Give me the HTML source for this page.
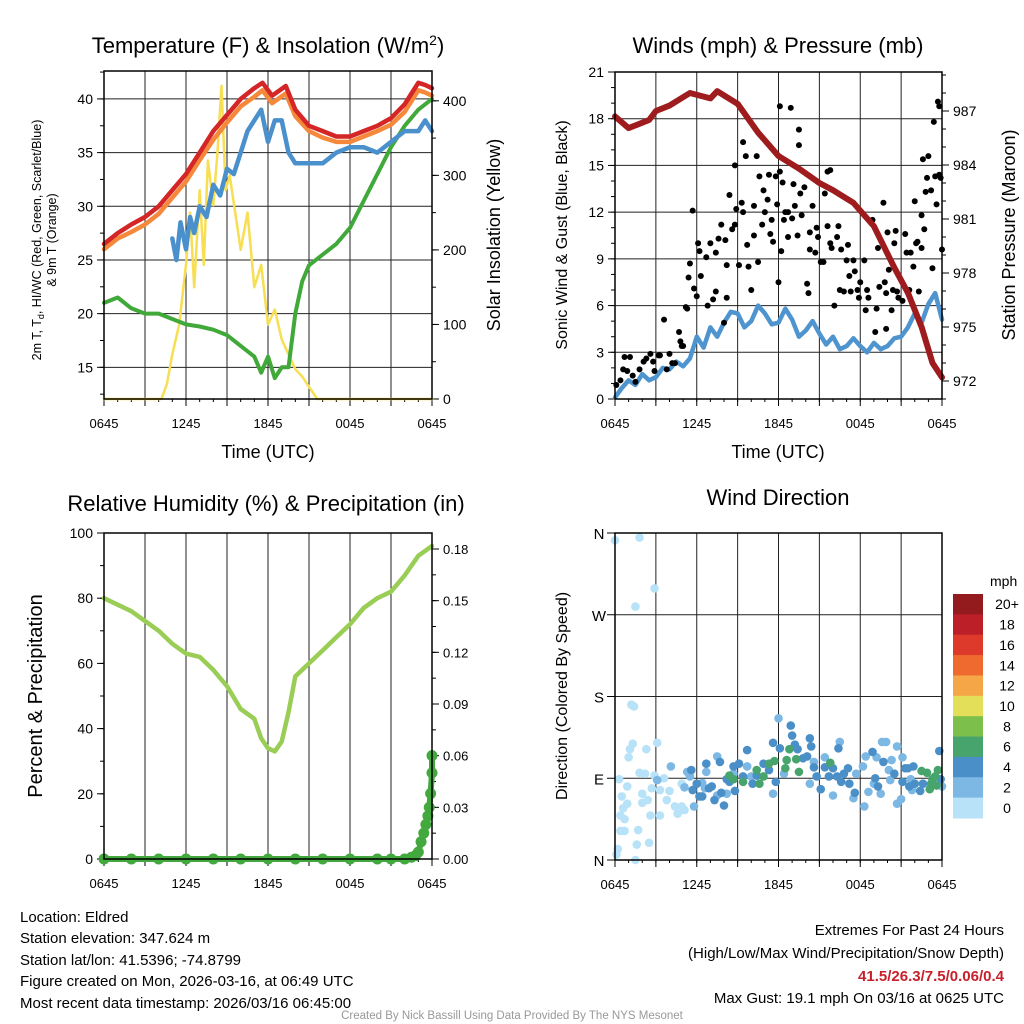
<!DOCTYPE html>
<html><head><meta charset="utf-8"><style>
body{margin:0;background:#fff}
svg{display:block;font-family:"Liberation Sans",sans-serif}
</style></head><body>
<svg id="s" width="1024" height="1024" viewBox="0 0 1024 1024" xmlns="http://www.w3.org/2000/svg">
<rect width="1024" height="1024" fill="#fff"/>
<g id="p1"></g>
<g id="p2"></g>
<g id="p3"></g>
<g id="p4"></g>
<text x="268" y="53" font-size="22" text-anchor="middle">Temperature (F) &amp; Insolation (W/m<tspan dy="-8" font-size="14">2</tspan><tspan dy="8">)</tspan></text>
<text x="778" y="53" font-size="22" text-anchor="middle">Winds (mph) &amp; Pressure (mb)</text>
<text x="266" y="511" font-size="22" text-anchor="middle">Relative Humidity (%) &amp; Precipitation (in)</text>
<text x="778" y="505" font-size="22" text-anchor="middle">Wind Direction</text>
<text x="268" y="458" font-size="18" text-anchor="middle">Time (UTC)</text>
<text x="778" y="458" font-size="18" text-anchor="middle">Time (UTC)</text>
<text transform="translate(41,240) rotate(-90)" font-size="12.5" text-anchor="middle">2m T, T<tspan font-size="9" dy="3">d</tspan><tspan dy="-3">, HI/WC (Red, Green, Scarlet/Blue)</tspan></text>
<text transform="translate(56,240) rotate(-90)" font-size="12.5" text-anchor="middle">&amp; 9m T (Orange)</text>
<text transform="translate(500,235) rotate(-90)" font-size="18" text-anchor="middle">Solar Insolation (Yellow)</text>
<text transform="translate(567,235) rotate(-90)" font-size="16" text-anchor="middle">Sonic Wind &amp; Gust (Blue, Black)</text>
<text transform="translate(1015,235) rotate(-90)" font-size="18" text-anchor="middle">Station Pressure (Maroon)</text>
<text transform="translate(42,696) rotate(-90)" font-size="20" text-anchor="middle">Percent &amp; Precipitation</text>
<text transform="translate(567,696) rotate(-90)" font-size="16" text-anchor="middle">Direction (Colored By Speed)</text>
<g font-size="15">
<text x="20" y="922">Location: Eldred</text>
<text x="20" y="943">Station elevation: 347.624 m</text>
<text x="20" y="965">Station lat/lon: 41.5396; -74.8799</text>
<text x="20" y="986">Figure created on Mon, 2026-03-16, at 06:49 UTC</text>
<text x="20" y="1008">Most recent data timestamp: 2026/03/16 06:45:00</text>
</g>
<g font-size="15" text-anchor="end">
<text x="1004" y="935">Extremes For Past 24 Hours</text>
<text x="1004" y="958">(High/Low/Max Wind/Precipitation/Snow Depth)</text>
<text x="1004" y="981" fill="#c8202a" font-weight="bold">41.5/26.3/7.5/0.06/0.4</text>
<text x="1004" y="1003">Max Gust: 19.1 mph On 03/16 at 0625 UTC</text>
</g>
<text x="512" y="1019" font-size="11.5" fill="#999" text-anchor="middle">Created By Nick Bassill Using Data Provided By The NYS Mesonet</text>
</svg>
<script>
// ---- Temperature panel data (hours since 0645 UTC) ----
const tempHours=[0,1,2,3,4,5,6,7,8,9,10,11,11.6,12.3,13.3,14,15,16,17,18,19,20,21,22,22.5,23,23.5,24];
const tempRed=[26.5,27.5,28.3,29,30,31.5,33,35,37,38.5,40,41,41.5,40.3,41.2,39,37.5,37,36.5,36.5,37,37.5,38.2,39.5,40.5,41.5,41.3,41];
const temp9m=[26,27,27.6,28.3,29.3,30.8,32.3,34.3,36.2,37.8,39.3,40.2,40.8,39.6,40.5,38.4,37,36.4,36,36,36.5,37,37.6,38.8,39.8,40.8,40.6,40.3];
const hiHours=[5,5.3,5.6,6,6.3,6.6,7,7.5,8,8.5,9,9.5,10,10.5,11,11.5,12,12.5,13,13.5,14,15,16,17,18,19,20,21,22,23,23.5,24];
const hiBlue=[27,25,28.5,26,29,27.5,30,29,32,31,33.5,33,35,37,38,39,36,38,38,35,34,34,34,35,35.5,35.5,35,36,37,37,38,37];
const dewHours=[0,1,2,3,4,5,6,7,8,9,10,11,11.5,12,12.5,13,13.5,14,14.5,15,16,17,18,19,20,21,22,23,24];
const dewGreen=[21,21.5,20.5,20,20,19.5,19,18.8,18.5,18,17,16,14.5,16,14,15,15,20,23,24.5,25.5,26.5,28,30.5,33,35.5,37.5,39,40];
const solarHours=[0,4.2,4.6,5,5.5,6,6.3,6.6,7,7.3,7.6,8,8.3,8.6,8.9,9.2,9.6,10,10.5,11,11.5,12,12.5,13,13.5,14,14.5,15.6,24];
const solarVals=[0,0,20,60,100,180,250,150,280,180,320,260,330,420,280,300,250,200,250,150,180,100,120,80,60,40,30,0,0];
const tempTicks=[15,20,25,30,35,40];
const solarTicks=[0,100,200,300,400];
const timeLabels=["0645","1245","1845","0045","0645"];
// ---- Winds panel data ----
const windHours=[0,0.5,1,1.5,2,2.5,3,3.5,4,4.5,5,5.5,6,6.5,7,7.5,8,8.5,9,9.5,10,10.5,11,11.5,12,12.5,13,13.5,14,14.5,15,15.5,16,16.5,17,17.5,18,18.5,19,19.5,20,20.5,21,21.5,22,22.5,23,23.5,24];
const windSonic=[0.1,0.7,1.2,0.9,1.6,1.2,1.4,2,1.9,2.4,2.1,2.6,4,3.3,4.6,4,4.9,5.6,5.5,4.6,5,6,5.5,4.8,4.9,5.8,5.1,4,4.4,5,4.2,3.5,4,3.2,3.4,3.9,3.4,3,3.6,3.2,3.4,3.9,4,4.6,5.5,4.9,6.1,6.8,5.1];
const gustHours=[0.1,0.4,0.7,1.1,0.9,1.5,1.8,2.3,2.8,3.2,3.6,3.8,4,4.4,4.8,5,5.2,5.5,5.4,5.7,5.8,6,6.1,6.2,6.3,6.7,6.8,7,7.2,7.4,7.4,7.6,7.8,8.1,8.2,8.2,8,8.4,8.6,8.8,8.8,8.9,9.1,9.3,9.4,9.7,9.4,9.6,9.8,10,10.2,10.2,10.4,10.5,10.6,10.8,10.9,11,11.2,11.3,11.4,11.5,11.6,11.8,11.9,12,12.1,12.1,12.2,12.3,12.4,12.5,12.7,12.7,12.9,13,13.1,13.2,13.4,13.5,13.5,13.6,13.7,13.9,14.1,14.2,14.3,14.3,14.5,14.7,14.8,14.9,15.1,15.3,15.4,15.6,15.8,15.6,15.8,15.9,16.1,16.3,16.4,16.5,16.6,16.8,17,17.1,17.2,17.3,17.5,17.6,17.8,17.9,18,18.3,18.4,18.5,18.6,18.9,19.1,19.2,19.3,19.4,19.7,19.8,19.9,19.9,20,20.1,20.3,20.4,20.5,20.6,20.7,20.8,21.1,21.3,21.4,21.6,21.7,21.9,22,22.1,22.2,22.3,22.5,22.5,22.6,22.7,22.8,22.9,23,23.2,23.3,23.4,23.5,23.6,23.7,23.8,23.8,23.9,24,0.6,1.3,2.1,2.6,2.9,3.3,4.2,4.7,4.9,5.3];
const gustVals=[0.9,1.2,2.7,2.7,1.8,1.1,1.9,2.6,2.4,2.8,5.1,1.9,2.9,2.3,3.7,3.4,5.9,8.7,7.8,12.1,7.1,6.6,10,9.5,7.9,9.1,6,10,6.4,9.4,6.9,10.3,11.2,10.2,8.6,6.5,4.9,13.1,10.9,11.2,15,12.2,8.6,12.6,12,9.9,16.5,15.6,8.5,7,10.5,12.4,15.6,8.8,14.3,11.2,13.4,12,12.8,14.4,10.6,11.5,10.1,14.3,12.5,7.5,18.8,14.6,9.5,13.9,11.5,12,10.4,12,18.7,11.6,13.8,12.4,10.5,16.3,17.3,13.2,11.8,13.6,7.4,6.8,10.7,9.6,12.4,9.4,11,10.4,8.8,8.8,13.2,14.6,14.7,11.1,10,9.7,6,10.4,11.1,7,9.6,6.9,8.9,9.9,7.9,6.9,8.9,8.2,7,6.5,7.5,8.9,5.7,7,6.5,11.5,4.3,5.8,9.7,7.2,12.6,7.5,4.5,6.8,10.7,8.3,5.7,7,10,10.8,6.9,6.5,6.3,10.6,9.4,7,9.4,8.5,12.7,10,10.1,6.9,9.7,11.8,15.4,10.9,13.3,14.2,15.6,13.4,8.4,17.8,14.3,12.5,19.1,18.8,14.4,14.2,9.6,1.9,1.5,2.4,2.9,1.8,2.8,2.3,4.3,3.4,5.8];
const presHours=[0,1,2.5,3,4,5.5,7,7.5,9,10.5,12,13.5,15,16,17.5,19,20.5,21.5,22.5,23.3,24];
const presVals=[986.7,986.05,986.5,987,987.3,988,987.7,988.1,987.4,985.8,984.5,983.8,983,982.6,981.9,980.6,978.3,976.9,975,973,972.2];
const windTicks=[0,3,6,9,12,15,18,21];
const presTicks=[972,975,978,981,984,987];
// ---- Humidity panel data ----
const rhHours=[0,1,2,3,4,5,6,7,8,9,10,11,11.5,12,12.5,13,13.5,14,15,16,17,18,19,20,21,22,23,24];
const rhVals=[80,78,76,73,70,66,63,62,58,53,46,43,37,34,33,36,45,56,60,64,68,72,77,80,82,87,93,96];
const precipHours=[0,2,4,6,8,10,12,14,16,18,20,21,22,22.5,22.8,23,23.2,23.4,23.55,23.7,23.8,23.9,24,24];
const precipVals=[0,0,0,0,0,0,0,0,0,0,0,0,0,0.001,0.002,0.004,0.01,0.015,0.02,0.025,0.03,0.038,0.05,0.06];
const rhTicks=[0,20,40,60,80,100];
const precipTicks=[0,0.03,0.06,0.09,0.12,0.15,0.18];
// ---- Wind direction panel data ----
const dirHours=[0,1.8,2.9,1.5,1.2,1.4,1.3,1.1,1,2.3,3.1,1.8,2.2,2.9,0.3,0.9,0.5,0.9,0.6,0.4,0.7,0.4,0.7,1.7,1.6,2.5,0.2,0.1,1.5,2,2,2.4,2.6,2.7,3.3,3.3,3.6,3.8,4,4.4,4.6,4.9,5.1,4.9,5.1,
4.1,3.1,5.3,5.5,5.1,5.8,6.4,6.6,6.7,7.5,7.5,8.2,8.7,9.7,10,11.6,12,12.4,14.3,14.6,15.4,16,16.5,17.5,17.7,18.2,18.3,18.4,18.6,19,19.2,19.5,19.6,19.9,20.1,20.2,20.3,20.7,20.7,21,21.1,21.8,21.7,24,
5.6,5.7,6,6.2,6.4,6.7,6.9,7.1,7.3,7.7,7.8,8,8.2,8.4,8.8,8.7,9.1,9.4,9.7,10.1,10.4,10.9,11.3,11.6,11.8,12.1,12.9,13,13.2,13.4,13.8,14.1,14.3,14.4,14.6,14.8,15.1,15.4,15.7,16,16.3,16.4,16.6,16.8,17.1,17.2,17.6,18.9,19.1,19.3,19.7,20.5,21.1,21.3,21.5,21.6,21.9,22,22.4,22.6,23.8,23.9,
8.4,8.7,9.4,10.4,10.6,10.9,11.3,11.7,12.5,12.6,12.8,13.3,13.5,15.8,22.5,22.9,23.2,23.1,23.5,23.6,23.7,23.3];
const dirDeg=[352,355,299,279,171,169,128,122,113,122,129,96,95,93,89,81,70,62,57,49,45,32,32,33,17,19,12,6,0,73,63,66,49,79,77,49,90,66,76,59,51,59,55,84,80,
103,88,97,92,80,59,85,79,97,114,71,73,95,103,92,73,156,95,84,108,113,71,130,68,95,103,59,114,75,84,113,73,130,130,99,88,110,125,62,67,113,77,89,81,
99,77,84,70,70,106,79,81,66,108,74,60,89,86,76,103,106,92,121,84,93,106,99,129,86,123,148,137,127,122,112,114,134,125,102,92,78,102,92,101,92,123,86,95,101,84,74,119,90,81,108,95,86,101,101,81,103,84,76,84,120,89,
93,89,86,99,84,92,106,109,101,110,122,111,97,107,98,96,84,78,92,82,99,89];
const dirSpeed=[1,1,1,1,1,1,1,1,1,1,1,1,1,1,1,1,1,1,1,1,1,1,1,1,1,1,1,1,1,1,1,1,1,1,1,1,1,1,1,1,1,1,1,1,1,
3,3,3,3,3,3,3,3,3,3,3,3,3,3,3,3,3,3,3,3,3,3,3,3,3,3,3,3,3,3,3,3,3,3,3,3,3,3,3,3,3,3,3,3,
5,5,5,5,5,5,5,5,5,5,5,5,5,5,5,5,5,5,5,5,5,5,5,5,5,5,5,5,5,5,5,5,5,5,5,5,5,5,5,5,5,5,5,5,5,5,5,5,5,5,5,5,5,5,5,5,5,5,5,5,5,5,
7,7,7,7,7,7,7,7,7,7,7,7,7,7,7,7,7,7,7,7,7,7];
const dirTicks=[0,90,180,270,360];
const dirLabels=["N","E","S","W","N"];
const cbLabels=["0","2","4","6","8","10","12","14","16","18","20+"];
const cbColors=["#b7e2f7","#7db8e4","#4a8fc7","#47a46c","#7cbf4b","#e4df58","#f5a747","#ef6a2f","#de3a2b","#bd1f28","#931a1d"];

const NS="http://www.w3.org/2000/svg";
function mk(parent,tag,attrs){const e=document.createElementNS(NS,tag);for(const k in attrs)e.setAttribute(k,attrs[k]);parent.appendChild(e);return e;}
function lin(d0,d1,r0,r1){return v=>r0+(v-d0)/(d1-d0)*(r1-r0);}
function frame(g,L,T,R,B,xs,hGrid,ys){
  for(let h=0;h<=24;h+=3){const x=xs(h);
    const gl=mk(g,'line',{x1:x,x2:x,y1:T,y2:B,stroke:'#222','stroke-width':1});
    
    
    mk(g,'line',{x1:x,x2:x,y1:B,y2:B+7,stroke:'#000','stroke-width':1});}
  for(let h=0;h<=24;h+=1){const x=xs(h);mk(g,'line',{x1:x,x2:x,y1:B,y2:B+3,stroke:'#000','stroke-width':1});}
  timeLabels.forEach((t,i)=>{const x=xs(i*6);const tx=mk(g,'text',{x:x,y:B+29,'font-size':13,'text-anchor':'middle'});tx.textContent=t;
    
    });
  hGrid.forEach(v=>{const y=ys(v);const l=mk(g,'line',{x1:L,x2:R,y1:y,y2:y,stroke:'#222','stroke-width':1});
    
    });
}
function border(g,L,T,R,B){const r=mk(g,'rect',{x:L,y:T,width:R-L,height:B-T,fill:'none',stroke:'#000','stroke-width':1.5});
  
  }
function leftTicks(g,L,ys,ticks,fmt,minorStep,lo,hi,fs){
  ticks.forEach(v=>{const y=ys(v);mk(g,'line',{x1:L-7,x2:L,y1:y,y2:y,stroke:'#000'});
    const t=mk(g,'text',{x:L-11,y:y+5,'font-size':fs||14,'text-anchor':'end'});t.textContent=fmt(v);
    
    });
  if(minorStep)for(let v=lo;v<=hi+1e-9;v+=minorStep){const y=ys(v);mk(g,'line',{x1:L-4,x2:L,y1:y,y2:y,stroke:'#000'});}
}
function rightTicks(g,R,ys,ticks,fmt,minorStep,lo,hi,fs){
  ticks.forEach(v=>{const y=ys(v);mk(g,'line',{x1:R,x2:R+7,y1:y,y2:y,stroke:'#000'});
    const t=mk(g,'text',{x:R+11,y:y+5,'font-size':fs||14,'text-anchor':'start'});t.textContent=fmt(v);
    
    });
  if(minorStep)for(let v=lo;v<=hi+1e-9;v+=minorStep){const y=ys(v);mk(g,'line',{x1:R,x2:R+4,y1:y,y2:y,stroke:'#000'});}
}
function path(g,xs,ys,X,Y,color,w,name){
  const d=X.map((x,i)=>(i?'L':'M')+xs(x).toFixed(1)+','+ys(Y[i]).toFixed(1)).join('');
  const p=mk(g,'path',{d:d,fill:'none',stroke:color,'stroke-width':w,'stroke-linejoin':'round','stroke-linecap':'round'});
  
  
  return p;
}
// Panel 1
(function(){
  const g=document.getElementById('p1');const L=104,T=71,R=432,B=399;
  const xs=lin(0,24,L,R), ys=lin(12.05,42.6,B,T), ys2=lin(0,440,B,T);
  frame(g,L,T,R,B,xs,tempTicks,ys);
  leftTicks(g,L,ys,tempTicks,v=>v,2.5,12.5,42.5);
  rightTicks(g,R,ys2,solarTicks,v=>v,50,0,400);
  path(g,xs,ys2,solarHours,solarVals,'#f7de52',2.5,'solar-insolation-line');
  path(g,xs,ys,dewHours,dewGreen,'#41a83a',4,'dewpoint-line');
  path(g,xs,ys,hiHours,hiBlue,'#4a90cc',4.5,'heat-index-windchill-line');
  path(g,xs,ys,tempHours,temp9m,'#f5883a',4.5,'temp-9m-line');
  path(g,xs,ys,tempHours,tempRed,'#d42527',4.5,'temp-2m-line');
  border(g,L,T,R,B);
})();
// Panel 2
(function(){
  const g=document.getElementById('p2');const L=615,T=72,R=942,B=399;
  const xs=lin(0,24,L,R), ys=lin(0,21,B,T), ys2=lin(972,987,381,111);
  frame(g,L,T,R,B,xs,windTicks,ys);
  leftTicks(g,L,ys,windTicks,v=>v,1,0,21);
  rightTicks(g,R,ys2,presTicks,v=>v,1,971,989);
  path(g,xs,ys,windHours,windSonic,'#4e95d0',4.5,'sonic-wind-line');
  gustHours.forEach((h,i)=>{const c=mk(g,'circle',{cx:xs(h),cy:ys(gustVals[i]),r:3,fill:'#000'});
    
    });
  path(g,xs,ys2,presHours,presVals,'#9e1b1e',6,'station-pressure-line');
  border(g,L,T,R,B);
})();
// Panel 3
(function(){
  const g=document.getElementById('p3');const L=104,T=533,R=432,B=859;
  const xs=lin(0,24,L,R), ys=lin(0,100,B,T), ys2=lin(0,0.18,B,549);
  frame(g,L,T,R,B,xs,[],ys);
  leftTicks(g,L,ys,rhTicks,v=>v,10,0,100);
  rightTicks(g,R,ys2,precipTicks,v=>v.toFixed(2),0.015,0,0.18,13);
  path(g,xs,ys,rhHours,rhVals,'#9acd55',4.5,'relative-humidity-line');
  path(g,xs,ys2,precipHours,precipVals,'#43a83d',6,'precipitation-line');
  precipHours.forEach((h,i)=>{const c=mk(g,'circle',{cx:xs(h),cy:ys2(precipVals[i]),r:5.5,fill:'#43a83d'});
    
    });
  border(g,L,T,R,B);
})();
// Panel 4
(function(){
  const g=document.getElementById('p4');const L=615,T=533,R=942,B=860;
  const xs=lin(0,24,L,R), ys=lin(0,360,B,T);
  frame(g,L,T,R,B,xs,dirTicks,ys);
  dirTicks.forEach((v,i)=>{const y=ys(v);mk(g,'line',{x1:L-8,x2:L,y1:y,y2:y,stroke:'#000'});
    const t=mk(g,'text',{x:L-16,y:y+6,'font-size':15,'text-anchor':'middle'});t.textContent=dirLabels[i];
    
    });
  dirHours.forEach((h,i)=>{const bin=Math.min(10,Math.floor(dirSpeed[i]/2));
    const c=mk(g,'circle',{cx:xs(h),cy:ys(dirDeg[i]),r:4.3,fill:cbColors[bin]});
    
    });
  border(g,L,T,R,B);
  const cb=mk(g,'g',{});
  
  
  const cx=953,cw=30,top=594,n=cbColors.length,bh=(818-594)/n;
  const mt=mk(cb,'text',{x:990,y:586,'font-size':14});mt.textContent='mph';
  for(let k=0;k<n;k++){
    const idx=n-1-k;
    mk(cb,'rect',{x:cx,y:top+k*bh,width:cw,height:bh+0.5,fill:cbColors[idx]});
    const t=mk(cb,'text',{x:1007,y:top+k*bh+bh/2+5,'font-size':14,'text-anchor':'middle'});
    t.textContent=cbLabels[idx];
  }
})();
</script>
</body></html>
